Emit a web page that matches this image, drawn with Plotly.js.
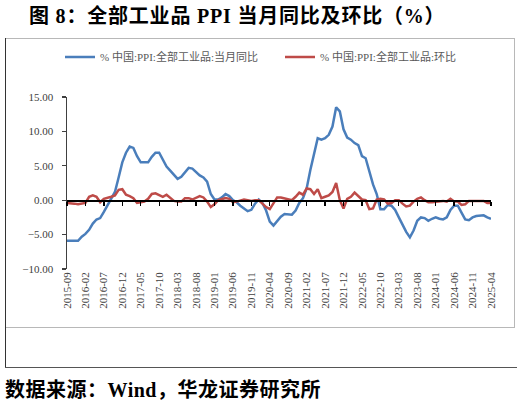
<!DOCTYPE html>
<html>
<head>
<meta charset="utf-8">
<script src="https://cdn.plot.ly/plotly-3.0.1.min.js"></script>
<style>
  html, body { margin: 0; padding: 0; background: #ffffff; }
  #wrap { position: relative; width: 521px; height: 408px; overflow: hidden; }
  #frame { position: absolute; left: 5px; top: 38px; width: 509px; height: 288px;
           border-top: 1px solid #b8b8b8; border-right: 1px solid #b8b8b8; border-bottom: 1px solid #b8b8b8; }
  #outerL { position: absolute; left: 5px; top: 38px; width: 0; height: 329px; border-left: 1.5px solid #333; }
  #outerB { position: absolute; left: 5px; top: 367px; width: 512px; height: 0; border-top: 1.5px solid #555; }
  #chart { position: absolute; left: 0; top: 0; width: 521px; height: 408px; }
  .cap { position: absolute; font-family: 'Liberation Serif', 'Noto Sans CJK SC', serif; font-weight: bold;
         font-size: 20px; color: #000; white-space: nowrap; line-height: 24px; margin: 0; }
</style>
</head>
<body>
<div id="wrap">
  <div id="frame"></div>
  <div id="outerL"></div>
  <div id="outerB"></div>
  <div id="chart"></div>
  <div id="figtitle" class="cap" style="left:29px; top:4px; letter-spacing:0.8px;"></div>
  <div id="figsource" class="cap" style="left:5px; top:378px; letter-spacing:0.5px;"></div>
</div>
<script>
// Monthly categories 2015-09 .. 2025-04
const categories = [
  "2015-09","2015-10","2015-11","2015-12",
  "2016-01","2016-02","2016-03","2016-04","2016-05","2016-06","2016-07","2016-08","2016-09","2016-10","2016-11","2016-12",
  "2017-01","2017-02","2017-03","2017-04","2017-05","2017-06","2017-07","2017-08","2017-09","2017-10","2017-11","2017-12",
  "2018-01","2018-02","2018-03","2018-04","2018-05","2018-06","2018-07","2018-08","2018-09","2018-10","2018-11","2018-12",
  "2019-01","2019-02","2019-03","2019-04","2019-05","2019-06","2019-07","2019-08","2019-09","2019-10","2019-11","2019-12",
  "2020-01","2020-02","2020-03","2020-04","2020-05","2020-06","2020-07","2020-08","2020-09","2020-10","2020-11","2020-12",
  "2021-01","2021-02","2021-03","2021-04","2021-05","2021-06","2021-07","2021-08","2021-09","2021-10","2021-11","2021-12",
  "2022-01","2022-02","2022-03","2022-04","2022-05","2022-06","2022-07","2022-08","2022-09","2022-10","2022-11","2022-12",
  "2023-01","2023-02","2023-03","2023-04","2023-05","2023-06","2023-07","2023-08","2023-09","2023-10","2023-11","2023-12",
  "2024-01","2024-02","2024-03","2024-04","2024-05","2024-06","2024-07","2024-08","2024-09","2024-10","2024-11","2024-12",
  "2025-01","2025-02","2025-03","2025-04"
];

// PPI year-on-year (%)
const ppiYoY = [
  -5.9,-5.9,-5.9,-5.9,
  -5.3,-4.9,-4.3,-3.4,-2.8,-2.6,-1.7,-0.8,0.1,1.2,3.3,5.5,
  6.9,7.8,7.6,6.4,5.5,5.5,5.5,6.3,6.9,6.9,5.8,4.9,
  4.3,3.7,3.1,3.4,4.1,4.7,4.6,4.1,3.6,3.3,2.7,0.9,
  0.1,0.1,0.4,0.9,0.6,0.0,-0.3,-0.8,-1.2,-1.6,-1.4,-0.5,
  0.1,-0.4,-1.5,-3.1,-3.7,-3.0,-2.4,-2.0,-2.1,-2.1,-1.5,-0.4,
  0.3,1.7,4.4,6.8,9.0,8.8,9.0,9.5,10.7,13.5,12.9,10.3,
  9.1,8.8,8.3,8.0,6.4,6.1,4.2,2.3,0.9,-1.3,-1.3,-0.7,
  -0.8,-1.4,-2.5,-3.6,-4.6,-5.4,-4.4,-3.0,-2.5,-2.6,-3.0,-2.7,
  -2.5,-2.7,-2.8,-2.5,-1.4,-0.8,-0.8,-1.8,-2.8,-2.9,-2.5,-2.3,
  -2.3,-2.2,-2.5,-2.7
];

// PPI month-on-month (%)
const ppiMoM = [
  -0.4,-0.4,-0.5,-0.6,
  -0.5,-0.4,0.5,0.7,0.5,-0.3,0.2,0.3,0.5,0.7,1.5,1.6,
  0.8,0.6,0.3,-0.4,-0.3,-0.2,0.2,0.9,1.0,0.7,0.5,0.8,
  0.3,-0.1,-0.2,-0.2,0.3,0.3,0.1,0.4,0.6,0.4,-0.2,-1.0,
  -0.6,0.0,0.1,0.3,0.2,-0.3,-0.2,-0.1,0.1,0.0,-0.1,0.0,
  0.0,-0.5,-1.0,-1.3,-0.4,0.4,0.4,0.3,0.1,0.0,0.5,1.1,
  0.8,1.7,1.6,0.9,1.6,0.3,0.5,0.7,1.2,2.5,0.0,-1.2,
  0.2,0.5,1.1,0.6,0.1,0.0,-1.3,-1.2,0.1,0.2,0.1,-0.5,
  -0.4,0.0,0.0,-0.5,-0.9,-0.8,-0.2,0.2,0.4,0.0,-0.3,-0.3,
  -0.2,-0.2,-0.1,-0.2,0.2,-0.2,-0.2,-0.7,-0.6,-0.1,-0.1,-0.1,
  -0.2,-0.1,-0.4,-0.4
];

const seriesNames = ["% 中国:PPI:全部工业品:当月同比", "% 中国:PPI:全部工业品:环比"];
const titleText = "图 8：全部工业品 PPI 当月同比及环比（%）";
const sourceText = "数据来源：Wind，华龙证券研究所";
const yTicks = [-10, -5, 0, 5, 10, 15];
const labelStep = 5;

document.getElementById("figtitle").textContent = titleText;
document.getElementById("figsource").textContent = sourceText;

const tickCats = categories.filter((c, i) => i % labelStep === 0);
const tickIdx = categories.map((c, i) => i).filter(i => i % labelStep === 0);

const serif = "'Liberation Serif', 'Times New Roman', 'Noto Sans CJK SC', serif";

const traces = [
  { x: categories, y: ppiYoY, type: "scatter", mode: "lines", name: seriesNames[0],
    line: { color: "#4A7EBB", width: 2.5 }, xaxis: "x", yaxis: "y", legend: "legend" },
  { x: categories, y: ppiMoM, type: "scatter", mode: "lines", name: seriesNames[1],
    line: { color: "#BE4B48", width: 2.5 }, xaxis: "x", yaxis: "y", legend: "legend2" },
  // invisible helper so the zero-line axis (xaxis2) is drawn
  { x: [0, categories.length - 1], y: [null, null], xaxis: "x2", yaxis: "y",
    type: "scatter", mode: "lines", showlegend: false, hoverinfo: "skip" }
];

const legendBase = {
  orientation: "h",
  xref: "container", yref: "container",
  xanchor: "left",
  y: 1 - 57 / 408, yanchor: "middle",
  font: { family: serif, size: 11, color: "#595959" },
  itemwidth: 30,
  bgcolor: "rgba(0,0,0,0)"
};

const layout = {
  width: 521, height: 408,
  margin: { l: 67, r: 30, t: 97, b: 139, pad: 0 },
  paper_bgcolor: "rgba(0,0,0,0)",
  plot_bgcolor: "rgba(0,0,0,0)",
  showlegend: true,
  legend: Object.assign({}, legendBase, { x: 60 / 521 }),
  legend2: Object.assign({}, legendBase, { x: 280 / 521 }),
  xaxis: {
    type: "category",
    range: [0, categories.length - 1],
    tickmode: "array",
    tickvals: tickCats,
    ticktext: tickCats,
    tickangle: -90,
    tickfont: { family: serif, size: 11, color: "#404040" },
    showline: false, showgrid: false, zeroline: false,
    ticks: "",
    anchor: "y"
  },
  xaxis2: {
    type: "linear",
    overlaying: "x",
    anchor: "free",
    position: 0.4,
    range: [0, categories.length - 1],
    tickmode: "array",
    tickvals: tickIdx,
    showticklabels: false,
    showline: true, linecolor: "#000", linewidth: 1.5,
    ticks: "outside", ticklen: 4, tickwidth: 1.3, tickcolor: "#000",
    showgrid: false, zeroline: false
  },
  yaxis: {
    range: [-10, 15],
    tickmode: "array",
    tickvals: yTicks,
    tickformat: ".2f",
    tickfont: { family: serif, size: 11, color: "#404040" },
    showline: true, linecolor: "#404040", linewidth: 1.5,
    ticks: "outside", ticklen: 4, tickwidth: 1.3, tickcolor: "#404040",
    ticklabelstandoff: 6,
    showgrid: false, zeroline: false,
    domain: [0, 1]
  }
};

Plotly.newPlot("chart", traces, layout, { displayModeBar: false, staticPlot: true });
</script>
</body>
</html>
